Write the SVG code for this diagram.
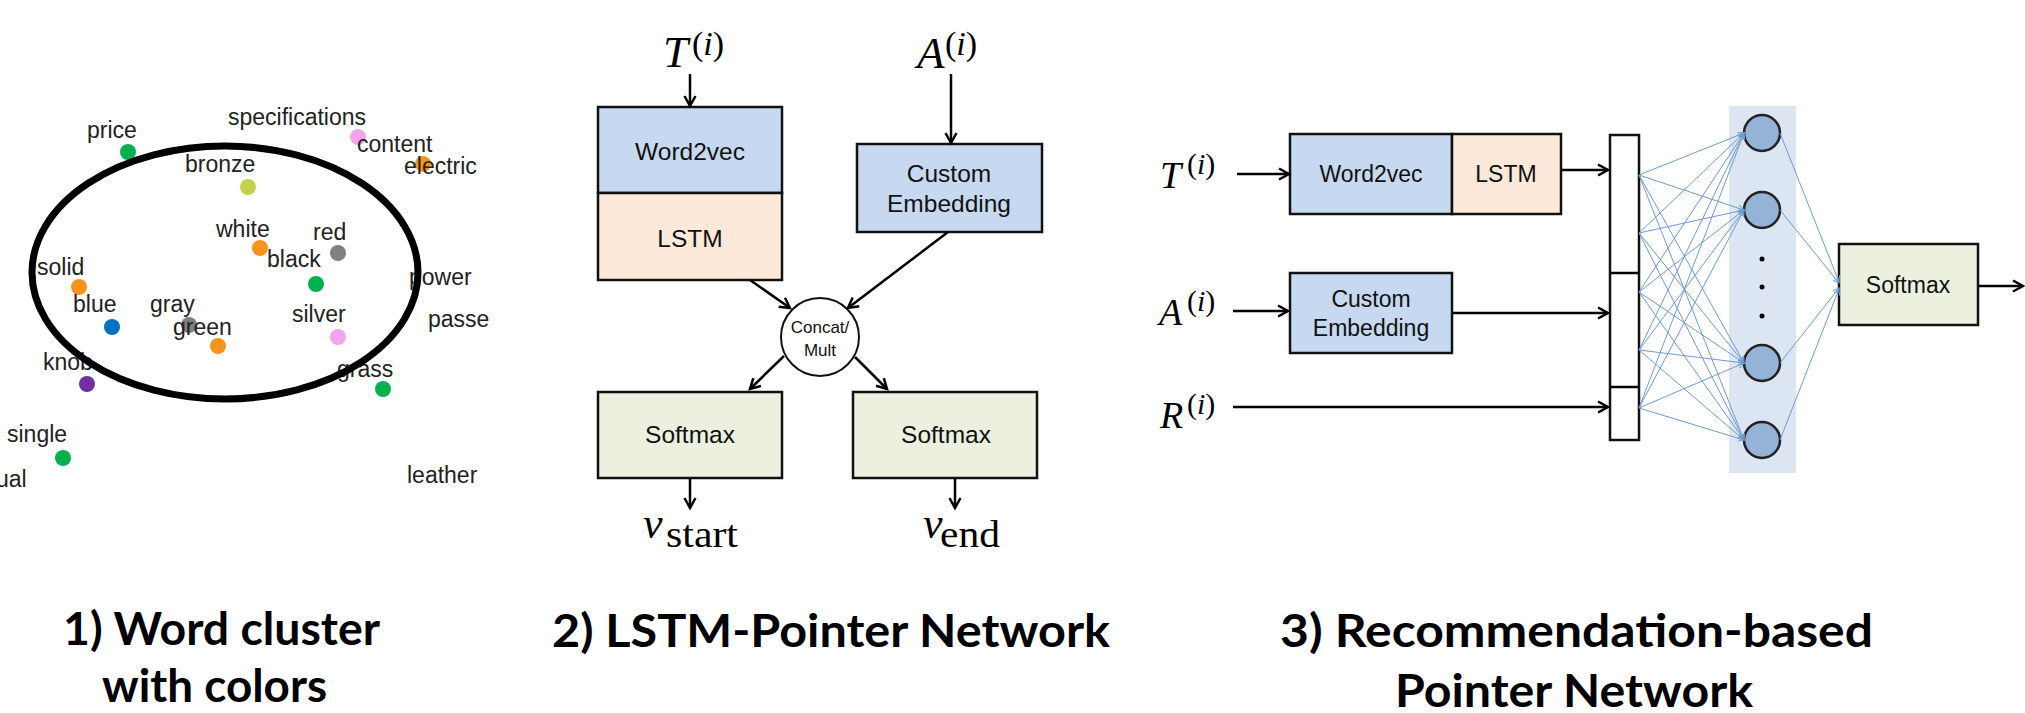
<svg xmlns="http://www.w3.org/2000/svg" width="2025" height="713" viewBox="0 0 2025 713">
<defs>
<marker id="ah" markerUnits="userSpaceOnUse" markerWidth="16" markerHeight="16" refX="12" refY="7" orient="auto">
<path d="M2,1.5 L12,7 L2,12.5" fill="none" stroke="#000" stroke-width="2.5"/>
</marker>
<marker id="ahb" markerUnits="userSpaceOnUse" markerWidth="8" markerHeight="8" refX="6" refY="3.5" orient="auto">
<path d="M0,0.5 L6,3.5 L0,6.5" fill="none" stroke="#6f9bd1" stroke-width="1"/>
</marker>
</defs>
<style>
.w{font-family:"Liberation Sans",Arial,sans-serif;font-size:23px;fill:#222}
.bx{font-family:"Liberation Sans",Arial,sans-serif;fill:#111;text-anchor:middle}
.m{font-family:"Liberation Serif","Times New Roman",serif;fill:#000}
.it{font-style:italic}
.t{font-family:Lato,"Open Sans",sans-serif;font-weight:700;font-size:46px;fill:#000}
.ln{stroke:#000;stroke-width:2.5;fill:none}
.arr{stroke:#000;stroke-width:2.5;fill:none;marker-end:url(#ah)}
.nn{stroke:#6f9bd1;stroke-width:1;fill:none;marker-end:url(#ahb)}
.box{stroke:#111;stroke-width:2.5}
.blue{fill:#c6d9f1}.peach{fill:#fde9d9}.grn{fill:#ebf1de}
</style>
<rect width="2025" height="713" fill="#fff"/>

<g id="panel1">
<g id="dots">
<circle cx="128" cy="152" r="8" fill="#00b050"/>
<circle cx="358" cy="137" r="8" fill="#f4a3ef"/>
<circle cx="423" cy="164" r="8" fill="#f7941d"/>
<circle cx="248" cy="187" r="8" fill="#c4d14a"/>
<circle cx="260" cy="248" r="8" fill="#f7941d"/>
<circle cx="338" cy="253" r="8" fill="#808080"/>
<circle cx="316" cy="284" r="8" fill="#00b050"/>
<circle cx="79" cy="287" r="8" fill="#f7941d"/>
<circle cx="112" cy="327" r="8" fill="#0070c0"/>
<circle cx="189" cy="325" r="8" fill="#808080"/>
<circle cx="218" cy="346" r="8" fill="#f7941d"/>
<circle cx="338" cy="337" r="8" fill="#f4a3ef"/>
<circle cx="87" cy="384" r="8" fill="#7030a0"/>
<circle cx="383" cy="389" r="8" fill="#00b050"/>
<circle cx="63" cy="458" r="8" fill="#00b050"/>
</g>
<g id="words">
<text class="w" x="87" y="138">price</text>
<text class="w" x="228" y="125">specifications</text>
<text class="w" x="357" y="152">content</text>
<text class="w" x="404" y="174">electric</text>
<text class="w" x="185" y="172">bronze</text>
<text class="w" x="216" y="237">white</text>
<text class="w" x="313" y="240">red</text>
<text class="w" x="267" y="267">black</text>
<text class="w" x="37" y="275">solid</text>
<text class="w" x="409" y="285">power</text>
<text class="w" x="73" y="312">blue</text>
<text class="w" x="150" y="312">gray</text>
<text class="w" x="173" y="335">green</text>
<text class="w" x="292" y="322">silver</text>
<text class="w" x="428" y="327">passe</text>
<text class="w" x="43" y="370">knob</text>
<text class="w" x="337" y="377">grass</text>
<text class="w" x="7" y="442">single</text>
<text class="w" x="-4" y="487">ual</text>
<text class="w" x="407" y="483">leather</text>
</g>
<ellipse id="cluster" cx="225" cy="272.5" rx="193" ry="126.5" fill="none" stroke="#000" stroke-width="7"/>
</g>

<g id="panel2">
<g id="p2-T"><text class="m it" x="663" y="67" font-size="45">T</text><text class="m" x="692" y="55" font-size="34">(<tspan class="it">i</tspan>)</text></g>
<g id="p2-A"><text class="m it" x="917" y="68" font-size="45">A</text><text class="m" x="945" y="55" font-size="34">(<tspan class="it">i</tspan>)</text></g>
<g id="p2-word2vec"><rect class="box blue" x="598" y="107" width="184" height="86"/><text class="bx" x="690" y="160" font-size="24.5">Word2vec</text></g>
<g id="p2-lstm"><rect class="box peach" x="598" y="193" width="184" height="87"/><text class="bx" x="690" y="247" font-size="24.5">LSTM</text></g>
<g id="p2-custom"><rect class="box blue" x="857" y="144" width="185" height="88"/><text class="bx" x="949" y="182" font-size="24.5">Custom</text><text class="bx" x="949" y="212" font-size="24.5">Embedding</text></g>
<g id="p2-concat"><circle cx="820" cy="337" r="39" fill="#fff" stroke="#111" stroke-width="2"/><text class="bx" x="820" y="333" font-size="17">Concat/</text><text class="bx" x="820" y="356" font-size="17">Mult</text></g>
<g id="p2-softmax1"><rect class="box grn" x="598" y="392" width="184" height="86"/><text class="bx" x="690" y="443" font-size="24.5">Softmax</text></g>
<g id="p2-softmax2"><rect class="box grn" x="853" y="392" width="184" height="86"/><text class="bx" x="946" y="443" font-size="24.5">Softmax</text></g>
<g id="p2-vstart"><text class="m it" x="643" y="538" font-size="44">v</text><text class="m" x="666" y="547" font-size="38" textLength="72" lengthAdjust="spacingAndGlyphs">start</text></g>
<g id="p2-vend"><text class="m it" x="923" y="538" font-size="44">v</text><text class="m" x="940" y="547" font-size="38" textLength="60" lengthAdjust="spacingAndGlyphs">end</text></g>
</g>

<g id="panel3">
<g id="p3-T"><text class="m it" x="1160" y="188" font-size="38">T</text><text class="m" x="1187" y="174" font-size="30">(<tspan class="it">i</tspan>)</text></g>
<g id="p3-A"><text class="m it" x="1159" y="325" font-size="38">A</text><text class="m" x="1187" y="311" font-size="30">(<tspan class="it">i</tspan>)</text></g>
<g id="p3-R"><text class="m it" x="1160" y="428" font-size="38">R</text><text class="m" x="1187" y="414" font-size="30">(<tspan class="it">i</tspan>)</text></g>
<g id="p3-word2vec"><rect class="box blue" x="1290" y="134" width="162" height="80"/><text class="bx" x="1371" y="182" font-size="23">Word2vec</text></g>
<g id="p3-lstm"><rect class="box peach" x="1452" y="134" width="109" height="80"/><text class="bx" x="1506" y="182" font-size="23">LSTM</text></g>
<g id="p3-custom"><rect class="box blue" x="1290" y="273" width="162" height="80"/><text class="bx" x="1371" y="307" font-size="23">Custom</text><text class="bx" x="1371" y="336" font-size="23">Embedding</text></g>
<g id="p3-concat"><rect x="1610" y="135" width="29" height="305" fill="#fff" stroke="#111" stroke-width="2.5"/><line class="ln" x1="1610" y1="273" x2="1639" y2="273"/><line class="ln" x1="1610" y1="387" x2="1639" y2="387"/></g>
<rect id="p3-layer-bg" x="1729" y="106" width="67" height="367" fill="#dce6f2"/>
<g id="p3-hidden">
<circle cx="1762" cy="133" r="18" fill="#95b3d7" stroke="#222" stroke-width="2.5"/>
<circle cx="1762" cy="210" r="18" fill="#95b3d7" stroke="#222" stroke-width="2.5"/>
<circle cx="1762" cy="363" r="18" fill="#95b3d7" stroke="#222" stroke-width="2.5"/>
<circle cx="1762" cy="440" r="18" fill="#95b3d7" stroke="#222" stroke-width="2.5"/>
<circle cx="1762" cy="259" r="2.5" fill="#000"/>
<circle cx="1762" cy="287" r="2.5" fill="#000"/>
<circle cx="1762" cy="316" r="2.5" fill="#000"/>
</g>
<g id="p3-softmax"><rect class="box grn" x="1839" y="244" width="139" height="81"/><text class="bx" x="1908" y="293" font-size="23">Softmax</text></g>
</g>

<g id="connectors">
<line class="arr" x1="690" y1="74" x2="690" y2="106"/>
<line class="arr" x1="951" y1="74" x2="951" y2="143"/>
<line class="arr" x1="750" y1="280" x2="790" y2="308"/>
<line class="arr" x1="948" y1="232" x2="848" y2="308"/>
<line class="arr" x1="784" y1="356" x2="750" y2="389"/>
<line class="arr" x1="855" y1="357" x2="887" y2="389"/>
<line class="arr" x1="690" y1="478" x2="690" y2="508"/>
<line class="arr" x1="955" y1="478" x2="955" y2="508"/>

<line class="arr" x1="1237" y1="174" x2="1289" y2="174"/>
<line class="arr" x1="1233" y1="311" x2="1288" y2="311"/>
<line class="arr" x1="1561" y1="170" x2="1608" y2="170"/>
<line class="arr" x1="1452" y1="313" x2="1608" y2="313"/>
<line class="arr" x1="1233" y1="407" x2="1608" y2="407"/>
<line class="arr" x1="1978" y1="286" x2="2023" y2="286"/>

<g id="dense">
<line class="nn" x1="1639" y1="175" x2="1744" y2="133"/><line class="nn" x1="1639" y1="175" x2="1744" y2="210"/><line class="nn" x1="1639" y1="175" x2="1744" y2="363"/><line class="nn" x1="1639" y1="175" x2="1744" y2="440"/>
<line class="nn" x1="1639" y1="233" x2="1744" y2="133"/><line class="nn" x1="1639" y1="233" x2="1744" y2="210"/><line class="nn" x1="1639" y1="233" x2="1744" y2="363"/><line class="nn" x1="1639" y1="233" x2="1744" y2="440"/>
<line class="nn" x1="1639" y1="292" x2="1744" y2="133"/><line class="nn" x1="1639" y1="292" x2="1744" y2="210"/><line class="nn" x1="1639" y1="292" x2="1744" y2="363"/><line class="nn" x1="1639" y1="292" x2="1744" y2="440"/>
<line class="nn" x1="1639" y1="350" x2="1744" y2="133"/><line class="nn" x1="1639" y1="350" x2="1744" y2="210"/><line class="nn" x1="1639" y1="350" x2="1744" y2="363"/><line class="nn" x1="1639" y1="350" x2="1744" y2="440"/>
<line class="nn" x1="1639" y1="408" x2="1744" y2="133"/><line class="nn" x1="1639" y1="408" x2="1744" y2="210"/><line class="nn" x1="1639" y1="408" x2="1744" y2="363"/><line class="nn" x1="1639" y1="408" x2="1744" y2="440"/>
<line class="nn" x1="1780" y1="133" x2="1839" y2="282"/><line class="nn" x1="1780" y1="210" x2="1839" y2="283"/><line class="nn" x1="1780" y1="363" x2="1839" y2="288"/><line class="nn" x1="1780" y1="440" x2="1839" y2="289"/>
</g>
</g>

<g id="titles">
<text class="t" x="63" y="645" textLength="317" lengthAdjust="spacingAndGlyphs">1) Word cluster</text>
<text class="t" x="102" y="702" textLength="225" lengthAdjust="spacingAndGlyphs">with colors</text>
<text class="t" x="552" y="647" textLength="558" lengthAdjust="spacingAndGlyphs">2) LSTM-Pointer Network</text>
<text class="t" x="1280" y="647" textLength="593" lengthAdjust="spacingAndGlyphs">3) Recommendation-based</text>
<text class="t" x="1395" y="707" textLength="358" lengthAdjust="spacingAndGlyphs">Pointer Network</text>
</g>
</svg>
